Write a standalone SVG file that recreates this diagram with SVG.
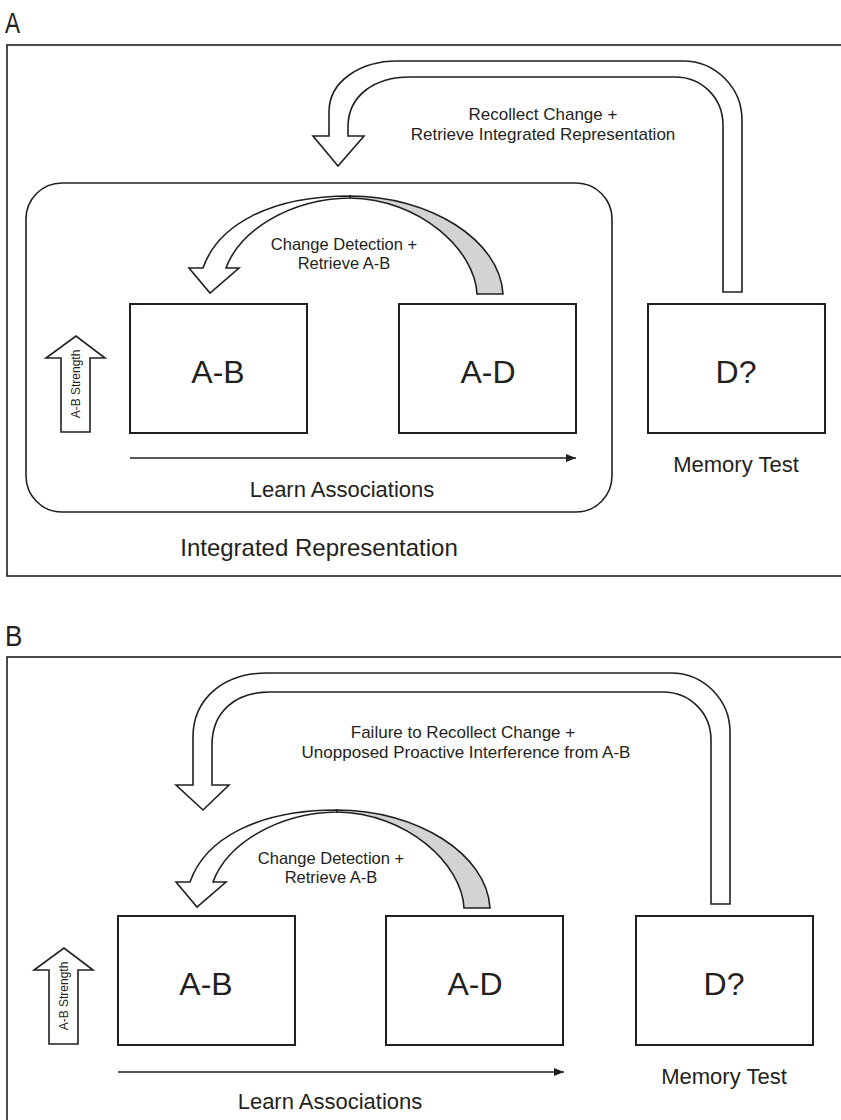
<svg xmlns="http://www.w3.org/2000/svg" width="841" height="1120" viewBox="0 0 841 1120">
<defs>
<style>
.ln{fill:none;stroke:#231f20;stroke-width:1.6}
.bx{fill:#fff;stroke:#231f20;stroke-width:2}
.ar{fill:#fff;stroke:#231f20;stroke-width:1.6;stroke-linejoin:miter}
.gr{fill:#d1d3d4;stroke:#231f20;stroke-width:1.6}
text{font-family:"Liberation Sans",Arial,sans-serif;fill:#231f20;text-anchor:middle}
.big{font-size:32px}
.mid{font-size:22px}
.sm{font-size:17px}
.xs{font-size:16.5px}
.tiny{font-size:12px}
.lab{font-size:29px;text-anchor:start}
</style>
<marker id="ah" markerWidth="10" markerHeight="8" refX="10" refY="4" orient="auto" markerUnits="userSpaceOnUse">
<path d="M0,0 L10,4 L0,8 Z" fill="#231f20"/>
</marker>
</defs>
<rect width="841" height="1120" fill="#fff"/>

<!-- Panel A -->
<g id="panelA">
<text class="lab" transform="translate(5,33) scale(0.78,1)" x="0" y="0">A</text>
<rect class="ln" x="7" y="45" width="900" height="531"/>
</g>
<g id="integrated">
<rect class="ln" x="26" y="183" width="586" height="329" rx="36" ry="36"/>
<text style="font-size:24px" x="319" y="556">Integrated Representation</text>
</g>
<g id="A-AB">
<rect class="bx" x="130" y="304" width="177" height="129"/>
<text class="big" x="218" y="383">A-B</text>
</g>
<g id="A-AD">
<rect class="bx" x="399" y="304" width="177" height="129"/>
<text class="big" x="488" y="383">A-D</text>
</g>
<g id="A-D">
<rect class="bx" x="648" y="304" width="177" height="129"/>
<text class="big" x="736" y="383">D?</text>
<text class="mid" x="736" y="472">Memory Test</text>
</g>
<g id="A-strength">
<path class="ar" d="M61,432 L61,358 L46,358 L76,336 L105,358 L90,358 L90,432 Z"/>
<text class="tiny" transform="translate(80,384) rotate(-90)">A-B Strength</text>
</g>
<g id="A-connectors">
<line class="ln" x1="130" y1="458" x2="576" y2="458" marker-end="url(#ah)"/>
<text class="mid" x="342" y="497">Learn Associations</text>
<path class="ar" d="M742,292 L742,120 C742,88 716,61 683,61 L397,61 C362,61 329,80 329,112 L329,136 L313,136 L338,166 L364,136 L348,136 L348,127 C348,95 375,77 410,77 L675,77 C702,77 723,98 723,125 L723,292 Z"/>
<text class="sm" x="543" y="120">Recollect Change +</text>
<text class="sm" x="543" y="140">Retrieve Integrated Representation</text>
<path class="gr" d="M350,196 C430,196 500,240 503,294 L477,294 C475,250 420,199 350,198 Z"/>
<path class="ar" d="M350,196 C270,196 218,225 203,268 L189,268 L210,293 L239,268 L226,268 C240,230 290,199 350,198 Z"/>
<text class="xs" x="344" y="250">Change Detection +</text>
<text class="xs" x="344" y="269">Retrieve A-B</text>
</g>

<!-- Panel B -->
<g id="panelB">
<text class="lab" transform="translate(5,646) scale(0.9,1)" x="0" y="0">B</text>
<rect class="ln" x="7" y="657" width="900" height="600"/>
</g>
<g id="B-AB">
<rect class="bx" x="118" y="916" width="177" height="129"/>
<text class="big" x="206" y="995">A-B</text>
</g>
<g id="B-AD">
<rect class="bx" x="386" y="916" width="177" height="129"/>
<text class="big" x="475" y="995">A-D</text>
</g>
<g id="B-D">
<rect class="bx" x="636" y="916" width="177" height="129"/>
<text class="big" x="724" y="995">D?</text>
<text class="mid" x="724" y="1084">Memory Test</text>
</g>
<g id="B-strength">
<path class="ar" d="M49,1044 L49,970 L34,970 L64,948 L93,970 L78,970 L78,1044 Z"/>
<text class="tiny" transform="translate(68,996) rotate(-90)">A-B Strength</text>
</g>
<g id="B-connectors">
<line class="ln" x1="118" y1="1072" x2="564" y2="1072" marker-end="url(#ah)"/>
<text class="mid" x="330" y="1109">Learn Associations</text>
<path class="ar" d="M730,904 L730,732 C730,700 704,673 671,673 L267,673 C222,673 193,700 193,737 L193,785 L176,785 L203,810 L229,785 L212,785 L212,745 C212,712 235,692 270,692 L663,692 C690,692 711,713 711,740 L711,904 Z"/>
<text class="sm" x="463" y="738">Failure to Recollect Change +</text>
<text class="sm" x="466" y="758">Unopposed Proactive Interference from A-B</text>
<path class="gr" d="M337,810 C417,810 487,854 490,908 L464,908 C462,864 407,813 337,812 Z"/>
<path class="ar" d="M337,810 C257,810 205,839 190,882 L176,882 L197,907 L226,882 L213,882 C227,844 277,813 337,812 Z"/>
<text class="xs" x="331" y="864">Change Detection +</text>
<text class="xs" x="331" y="883">Retrieve A-B</text>
</g>
</svg>
